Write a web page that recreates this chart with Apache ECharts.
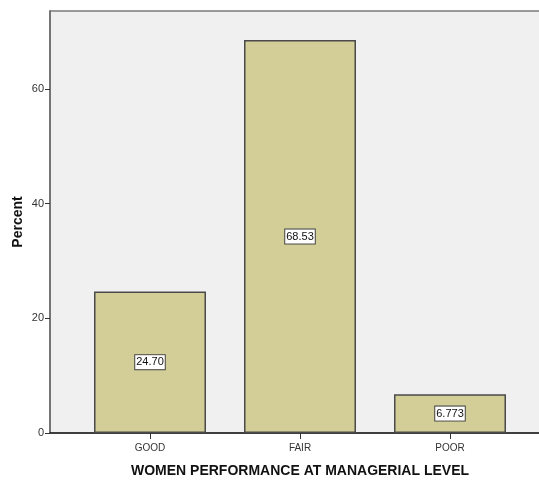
<!DOCTYPE html>
<html>
<head>
<meta charset="utf-8">
<script src="https://cdn.jsdelivr.net/npm/echarts@6/dist/echarts.min.js"></script>
<style>
  html, body { margin: 0; padding: 0; background: #ffffff; }
  #chart { width: 539px; height: 480px; }
</style>
</head>
<body>
<div id="chart"></div>
<script>
// Performance ratings and their share of respondents (percent)
const categories = ['GOOD', 'FAIR', 'POOR'];
const percentValues = [24.70, 68.53, 6.773];
const valueLabels = ['24.70', '68.53', '6.773'];
const yTicks = [0, 20, 40, 60];

const Y_MAX = 73.6;
const FONT = '"Liberation Sans", Arial, sans-serif';

const chart = echarts.init(document.getElementById('chart'), null, { renderer: 'canvas' });

chart.setOption({
  animation: false,
  backgroundColor: '#ffffff',
  grid: [
    // bar area
    { left: 75, right: 14, top: 11, bottom: 47, outerBoundsMode: 'none' },
    // full plot frame with grey panel, running off the right edge
    { left: 50, right: -10, top: 11, bottom: 47, show: true, outerBoundsMode: 'none',
      backgroundColor: '#f0f0f0', borderColor: '#7a7a7a', borderWidth: 1.5, z: 0 }
  ],
  xAxis: [
    {
      type: 'category', gridIndex: 0, data: categories,
      axisLine: { show: false },
      axisTick: { show: true, alignWithLabel: true, length: 6, lineStyle: { color: '#333' } },
      axisLabel: { color: '#333', fontFamily: FONT, fontSize: 10, margin: 10 },
      name: 'WOMEN PERFORMANCE AT MANAGERIAL LEVEL',
      nameLocation: 'middle', nameGap: 31,
      nameTextStyle: { color: '#111', fontFamily: FONT, fontSize: 14, fontWeight: 'bold' }
    },
    {
      type: 'value', gridIndex: 1, min: 0, max: 1,
      axisLine: { show: true, onZero: false, lineStyle: { color: '#222', width: 1.5 } },
      axisTick: { show: false }, axisLabel: { show: false }, splitLine: { show: false }
    }
  ],
  yAxis: [
    {
      type: 'value', gridIndex: 0, min: 0, max: Y_MAX,
      show: false, splitLine: { show: false }
    },
    {
      type: 'value', gridIndex: 1, min: 0, max: Y_MAX,
      axisLine: { show: true, lineStyle: { color: '#6a6a6a', width: 1.5 } },
      axisTick: { show: true, length: 5, customValues: yTicks, lineStyle: { color: '#333' } },
      axisLabel: {
        color: '#333', fontFamily: FONT, fontSize: 11, margin: 6,
        customValues: yTicks
      },
      splitLine: { show: false },
      name: 'Percent', nameLocation: 'middle', nameGap: 25, nameMoveOverlap: false,
      nameTextStyle: { color: '#111', fontFamily: FONT, fontSize: 14, fontWeight: 'bold' }
    }
  ],
  series: [{
    type: 'bar',
    xAxisIndex: 0, yAxisIndex: 0,
    data: percentValues,
    barWidth: 112,
    z: 3,
    itemStyle: { color: '#d3ce97', borderColor: '#4a4a4a', borderWidth: 1.5 },
    label: {
      show: true, position: 'inside',
      formatter: p => valueLabels[p.dataIndex],
      color: '#111', fontFamily: FONT, fontSize: 11,
      backgroundColor: '#ffffff', borderColor: '#444', borderWidth: 1,
      padding: [2, 1, 1, 1]
    }
  }]
});
</script>
</body>
</html>
